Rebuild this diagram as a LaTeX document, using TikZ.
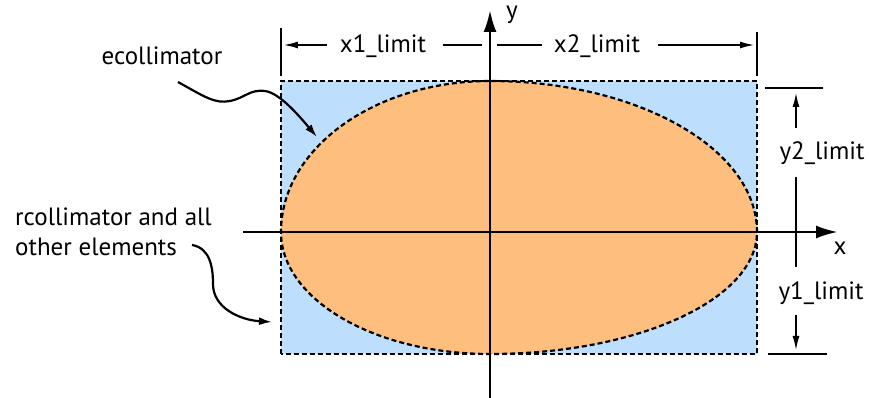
\documentclass[tikz,border=0pt]{standalone}
\usepackage{fontspec}
\setsansfont{PT Sans}
\renewcommand{\familydefault}{\sfdefault}
\usetikzlibrary{arrows.meta,positioning,calc}

\definecolor{limitblue}{RGB}{189,223,253}
\definecolor{ellipseorange}{RGB}{253,190,126}

\begin{document}
\begin{tikzpicture}[
    x=1pt, y=1pt,
    font=\fontsize{25}{30}\selectfont,
    lbl/.style={inner sep=0pt},
    axis/.style={line width=2.8pt, -{Latex[length=22pt,width=13pt]}},
    dimline/.style={line width=1.4pt},
    dimarrow/.style={line width=1.4pt, -{Latex[length=14pt,width=7pt]}},
    outline/.style={line width=2.2pt, dash pattern=on 5pt off 3pt},
    callout/.style={line width=2.2pt, -{Latex[length=13pt,width=8pt]}}
]

\useasboundingbox (-490,-166) rectangle (379,232);

% Rectangle and ellipse (four quarter ellipses, one per limit)
\fill [limitblue] (-209,-122) rectangle (267,151);
\filldraw [fill=ellipseorange, outline] (267,0)
    arc [start angle=0, end angle=90, x radius=267, y radius=151]
    arc [start angle=90, end angle=180, x radius=209, y radius=151]
    arc [start angle=180, end angle=270, x radius=209, y radius=122]
    arc [start angle=270, end angle=360, x radius=267, y radius=122] -- cycle;
\draw [outline] (-209,-122) rectangle (267,151);

% Axes
\coordinate (xstart) at (-247,0);
\coordinate (xend) at (348,0);
\coordinate (ystart) at (0,-166);
\coordinate (yend) at (0,222);
\draw [axis] (xstart) -- (xend);
\draw [axis] (ystart) -- (yend);
\node [lbl] (xlbl) at (350,-16) {x};
\node [lbl] (ylbl) at (22,217) {y};

% x limits
\coordinate (x1top) at (-209,204);
\coordinate (x1bot) at (-209,156);
\coordinate (x2top) at (267,200);
\coordinate (x2bot) at (267,156);
\draw [dimline] (x1top) -- (x1bot);
\draw [dimline] (x2top) -- (x2bot);

\node [lbl] (x1lbl) at (-107,186) {x1\_limit};
\node [lbl] (x2lbl) at (107,186) {x2\_limit};
\coordinate (x1tip) at (-206,187);
\coordinate (x1gap) at (-8,187);
\coordinate (x2gap) at (7,187);
\coordinate (x2tip) at (264,187);
\draw [dimarrow] (-163,187) -- (x1tip);
\draw [dimline] (-47,187) -- (x1gap);
\draw [dimline] (x2gap) -- (52,187);
\draw [dimarrow] (168,187) -- (x2tip);

% y limits
\coordinate (y2left) at (275,144);
\coordinate (y2right) at (333,144);
\coordinate (y1left) at (278,-122);
\coordinate (y1right) at (337,-122);
\draw [dimline] (y2left) -- (y2right);
\draw [dimline] (y1left) -- (y1right);

\node [lbl] (y2lbl) at (332,79) {y2\_limit};
\node [lbl] (y1lbl) at (331,-61) {y1\_limit};
\coordinate (y2tip) at (306,139);
\coordinate (y1tip) at (306,-118);
\draw [dimarrow] (306,104) -- (y2tip);
\draw [dimline] (306,55) -- (306,-35);
\draw [dimarrow] (306,-83) -- (y1tip);

% Callouts
\node [lbl] (elbl) at (-328,176) {ecollimator};
\node [lbl, align=left, anchor=west] (rlbl) at (-475,0) {rcollimator and all\\other elements};
\coordinate (etip) at (-173,95);
\coordinate (rtip) at (-218,-90);
\draw [callout] (-312,150) .. controls (-285,135) and (-275,128) .. (-260,131)
    .. controls (-245,134) and (-240,143) .. (-225,141)
    .. controls (-210,139) and (-190,115) .. (etip);
\draw [callout] (-298,-13) .. controls (-280,-16) and (-277,-35) .. (-277,-52)
    .. controls (-277,-76) and (-250,-88) .. (rtip);

\end{tikzpicture}
\end{document}
